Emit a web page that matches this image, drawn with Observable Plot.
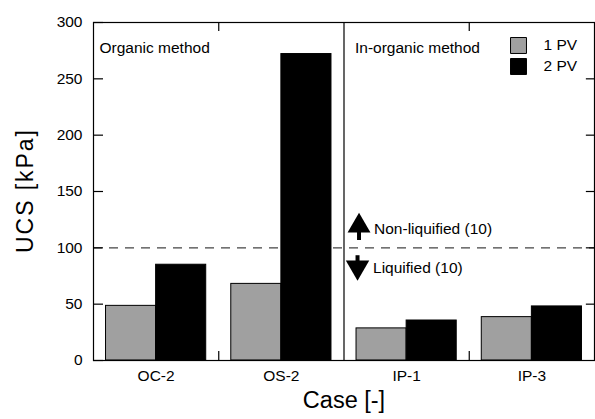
<!DOCTYPE html>
<html><head><meta charset="utf-8">
<script src="https://cdn.jsdelivr.net/npm/d3@7"></script>
<script src="https://cdn.jsdelivr.net/npm/@observablehq/plot@0.6"></script>
<style>
body{margin:0;background:#fff;}
#chart svg, #chart svg text{font-family:"Liberation Sans", Arial, sans-serif !important;}
</style>
</head><body><div id="chart"></div>
<script>
// ---- data ----
const cases = ["OC-2", "OS-2", "IP-1", "IP-3"];
const pv1 = [48.5, 68, 28.5, 38.5];
const pv2 = [85, 272, 35.5, 48];
const seriesNames = ["1 PV", "2 PV"];
const seriesColors = ["#a0a0a0", "#000000"];
const yTicks = [0, 50, 100, 150, 200, 250, 300];
const rightTicks = [50, 100, 150, 200, 250];
const groupSplits = [0.5, 2.5];
const methodDivider = [1.5];
const threshold = [100];
const methodLabels = ["Organic method", "In-organic method"];
const zoneLabels = ["Non-liquified (10)", "Liquified (10)"];
const yTitle = "UCS [kPa]";
const xTitle = "Case [-]";

// ---- build rows ----
const bars = [];
cases.forEach((c, i) => {
  bars.push({i, s: 0, v: pv1[i]});
  bars.push({i, s: 1, v: pv2[i]});
});
const barW = 0.4;
const xMin = -0.5, xMax = 3.5;
const font = 15.5;
const ff = "Liberation Sans, Arial, sans-serif";

const marks = [
  Plot.ruleY(threshold, {stroke: "#444", strokeWidth: 1.3, strokeDasharray: "9,7"}),
  Plot.rect(bars, {
    x1: d => d.i + (d.s === 0 ? -barW : 0),
    x2: d => d.i + (d.s === 0 ? 0 : barW),
    y1: 0, y2: "v",
    fill: d => seriesColors[d.s],
    stroke: "#000", strokeWidth: 1
  }),
  Plot.ruleX(methodDivider, {stroke: "#000", strokeWidth: 1.2}),
  Plot.ruleY(yTicks, {x1: xMin, x2: xMin + 0.08, stroke: "#000", strokeWidth: 1.2}),
  Plot.ruleY(rightTicks, {x1: xMax - 0.065, x2: xMax, stroke: "#000", strokeWidth: 1.2}),
  Plot.ruleX(groupSplits, {y1: 300, y2: 292, stroke: "#000", strokeWidth: 1.2}),
  Plot.ruleX(groupSplits, {y1: 0, y2: 8, stroke: "#000", strokeWidth: 1.2}),
  Plot.frame({stroke: "#000", strokeWidth: 1.2}),
  Plot.axisY(yTicks, {tickSize: 0, tickPadding: 11, fontSize: font, fontFamily: ff, label: null}),
  Plot.axisX([0, 1, 2, 3], {tickSize: 0, tickPadding: 9, fontSize: font, fontFamily: ff, label: null, tickFormat: i => cases[i]}),
  Plot.text([methodLabels[0]], {x: xMin, y: 277, dx: 6, textAnchor: "start", fontSize: font, fontFamily: ff}),
  Plot.text([methodLabels[1]], {x: methodDivider[0], y: 277, dx: 11, textAnchor: "start", fontSize: font, fontFamily: ff}),
  // threshold arrows
  Plot.ruleX([1.62], {y1: 115, y2: 106.5, stroke: "#000", strokeWidth: 4}),
  Plot.dot([1.62], {x: d => d, y: 119.5, symbol: "triangle", r: 8.5, fill: "#000", stroke: "none"}),
  Plot.ruleX([1.608], {y1: 93, y2: 86, stroke: "#000", strokeWidth: 4}),
  Plot.dot([1.608], {x: d => d, y: 82.8, symbol: "triangle", r: 8.7, rotate: 180, fill: "#000", stroke: "none"}),
  Plot.text([zoneLabels[0]], {x: 1.74, y: 117, textAnchor: "start", fontSize: font, fontFamily: ff}),
  Plot.text([zoneLabels[1]], {x: 1.732, y: 82.5, textAnchor: "start", fontSize: font, fontFamily: ff}),
  Plot.text([yTitle], {frameAnchor: "left", dx: -68, rotate: -90, textAnchor: "middle", lineAnchor: "middle", fontSize: 23, fontFamily: ff}),
  Plot.text([xTitle], {frameAnchor: "bottom", dy: 40, textAnchor: "middle", lineAnchor: "middle", fontSize: 23.5, fontFamily: ff}),
];
seriesNames.forEach((name, k) => {
  marks.push(Plot.dot([name], {frameAnchor: "top-right", dx: -76, dy: 23 + k * 21, symbol: "square", r: 9, fill: seriesColors[k], stroke: "#000", strokeWidth: 1}));
  marks.push(Plot.text([name], {frameAnchor: "top-right", dx: -51, dy: 23 + k * 21, textAnchor: "start", lineAnchor: "middle", fontSize: font, fontFamily: ff}));
});

const chart = Plot.plot({
  width: 595, height: 419,
  marginLeft: 93, marginRight: 1, marginTop: 22, marginBottom: 59,
  x: {domain: [xMin, xMax], axis: null},
  y: {domain: [0, 300], axis: null},
  style: {fontFamily: ff, color: "#000", background: "#fff"},
  marks
});
d3.select(chart).selectAll("text")
  .filter(function() { return this.textContent === yTitle; })
  .attr("textLength", 123).attr("lengthAdjust", "spacing");
document.getElementById("chart").appendChild(chart);
</script>
</body></html>
